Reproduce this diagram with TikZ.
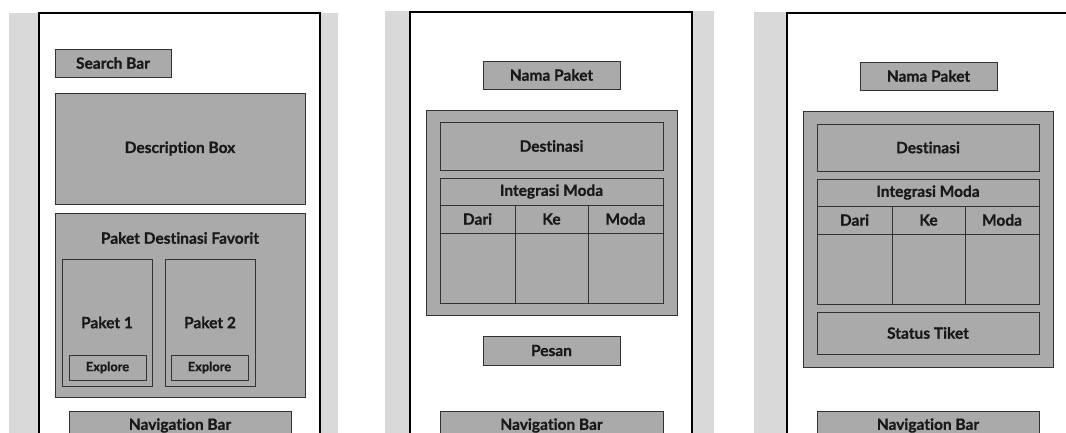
\documentclass[tikz,border=0pt]{standalone}
\usepackage{fontspec}
\setmainfont{Lato}[Ligatures={NoCommon}, BoldFeatures={FakeBold=0.8}]
\definecolor{pagebg}{RGB}{217,217,217}
\definecolor{boxfill}{RGB}{170,170,170}
\definecolor{boxline}{RGB}{50,50,50}
\definecolor{ink}{RGB}{25,25,25}
\tikzset{
  backdrop/.style={fill=pagebg, draw=none},
  phone/.style={fill=white, draw=black, line width=2pt},
  ui/.style={draw=boxline, fill=boxfill, line width=1pt, inner sep=0pt,
    text=ink, font=\bfseries\fontsize{15.5}{18}\selectfont},
  uismall/.style={ui, font=\bfseries\fontsize{12.8}{15}\selectfont},
  caption/.style={text=ink, inner sep=0pt, font=\bfseries\fontsize{15.5}{18}\selectfont},
}
\newcommand{\uibox}[6][ui]{%
  % #2 name, #3 left, #4 top, #5 right, #6 bottom (text via \uitext)
  \node[#1, minimum width={#5-#3}, minimum height={#6-#4}] (#2) at ({(#3+#5)/2},{(#4+#6)/2}) {\uitext};}
\begin{document}
\begin{tikzpicture}[x=1pt, y=-1pt]
\useasboundingbox (0,0) rectangle (1066,432);
\clip (0,0) rectangle (1066,432);

% ---------- screen 1: home ----------
\fill[backdrop] (9,13) rectangle (338,450);
\draw[phone] (39,13) rectangle (320,470);
\def\uitext{Search Bar}\uibox{search}{55}{49}{171}{77}
\def\uitext{Description Box}\uibox{desc}{55}{93}{305}{204}
\def\uitext{}\uibox{fav}{55}{213}{305}{397}
\node[caption] (favtitle) at (180,238) {Paket Destinasi Favorit};
\def\uitext{Paket 1}\uibox{pk1}{62}{259}{152}{386}
\def\uitext{Paket 2}\uibox{pk2}{165}{259}{255}{386}
\def\uitext{Explore}\uibox[uismall]{ex1}{69}{355}{146}{380}
\def\uitext{Explore}\uibox[uismall]{ex2}{171}{355}{248}{380}
\def\uitext{Navigation Bar}\uibox{nav1}{69}{411}{291}{440}

% ---------- screen 2: package detail ----------
\fill[backdrop] (385,11) rectangle (714,450);
\draw[phone] (410,12) rectangle (692,470);
\def\uitext{Nama Paket}\uibox{name2}{483}{61}{620}{89}
\def\uitext{}\uibox{outer2}{426}{110}{677}{315}
\def\uitext{Destinasi}\uibox{dest2}{440}{122}{663}{170}
\def\uitext{Integrasi Moda}\uibox{im2}{440}{178}{663}{205}
\def\uitext{Dari}\uibox{dari2}{440}{205}{515}{233}
\def\uitext{Ke}\uibox{ke2}{515}{205}{588}{233}
\def\uitext{Moda}\uibox{moda2}{588}{205}{663}{233}
\def\uitext{}\uibox{c21}{440}{233}{515}{303}
\def\uitext{}\uibox{c22}{515}{233}{588}{303}
\def\uitext{}\uibox{c23}{588}{233}{663}{303}
\def\uitext{Pesan}\uibox{pesan}{483}{336}{620}{365}
\def\uitext{Navigation Bar}\uibox{nav2}{440}{411}{663}{440}

% ---------- screen 3: ticket status ----------
\fill[backdrop] (754,12) rectangle (1090,450);
\draw[phone] (787,13) rectangle (1100,470);
\def\uitext{Nama Paket}\uibox{name3}{860}{62}{997}{90}
\def\uitext{}\uibox{outer3}{803}{111}{1053}{367}
\def\uitext{Destinasi}\uibox{dest3}{817}{124}{1039}{171}
\def\uitext{Integrasi Moda}\uibox{im3}{817}{179}{1039}{206}
\def\uitext{Dari}\uibox{dari3}{817}{206}{892}{234}
\def\uitext{Ke}\uibox{ke3}{892}{206}{965}{234}
\def\uitext{Moda}\uibox{moda3}{965}{206}{1039}{234}
\def\uitext{}\uibox{c31}{817}{234}{892}{304}
\def\uitext{}\uibox{c32}{892}{234}{965}{304}
\def\uitext{}\uibox{c33}{965}{234}{1039}{304}
\def\uitext{Status Tiket}\uibox{status}{817}{312}{1039}{354}
\def\uitext{Navigation Bar}\uibox{nav3}{817}{411}{1039}{440}
\end{tikzpicture}
\end{document}
